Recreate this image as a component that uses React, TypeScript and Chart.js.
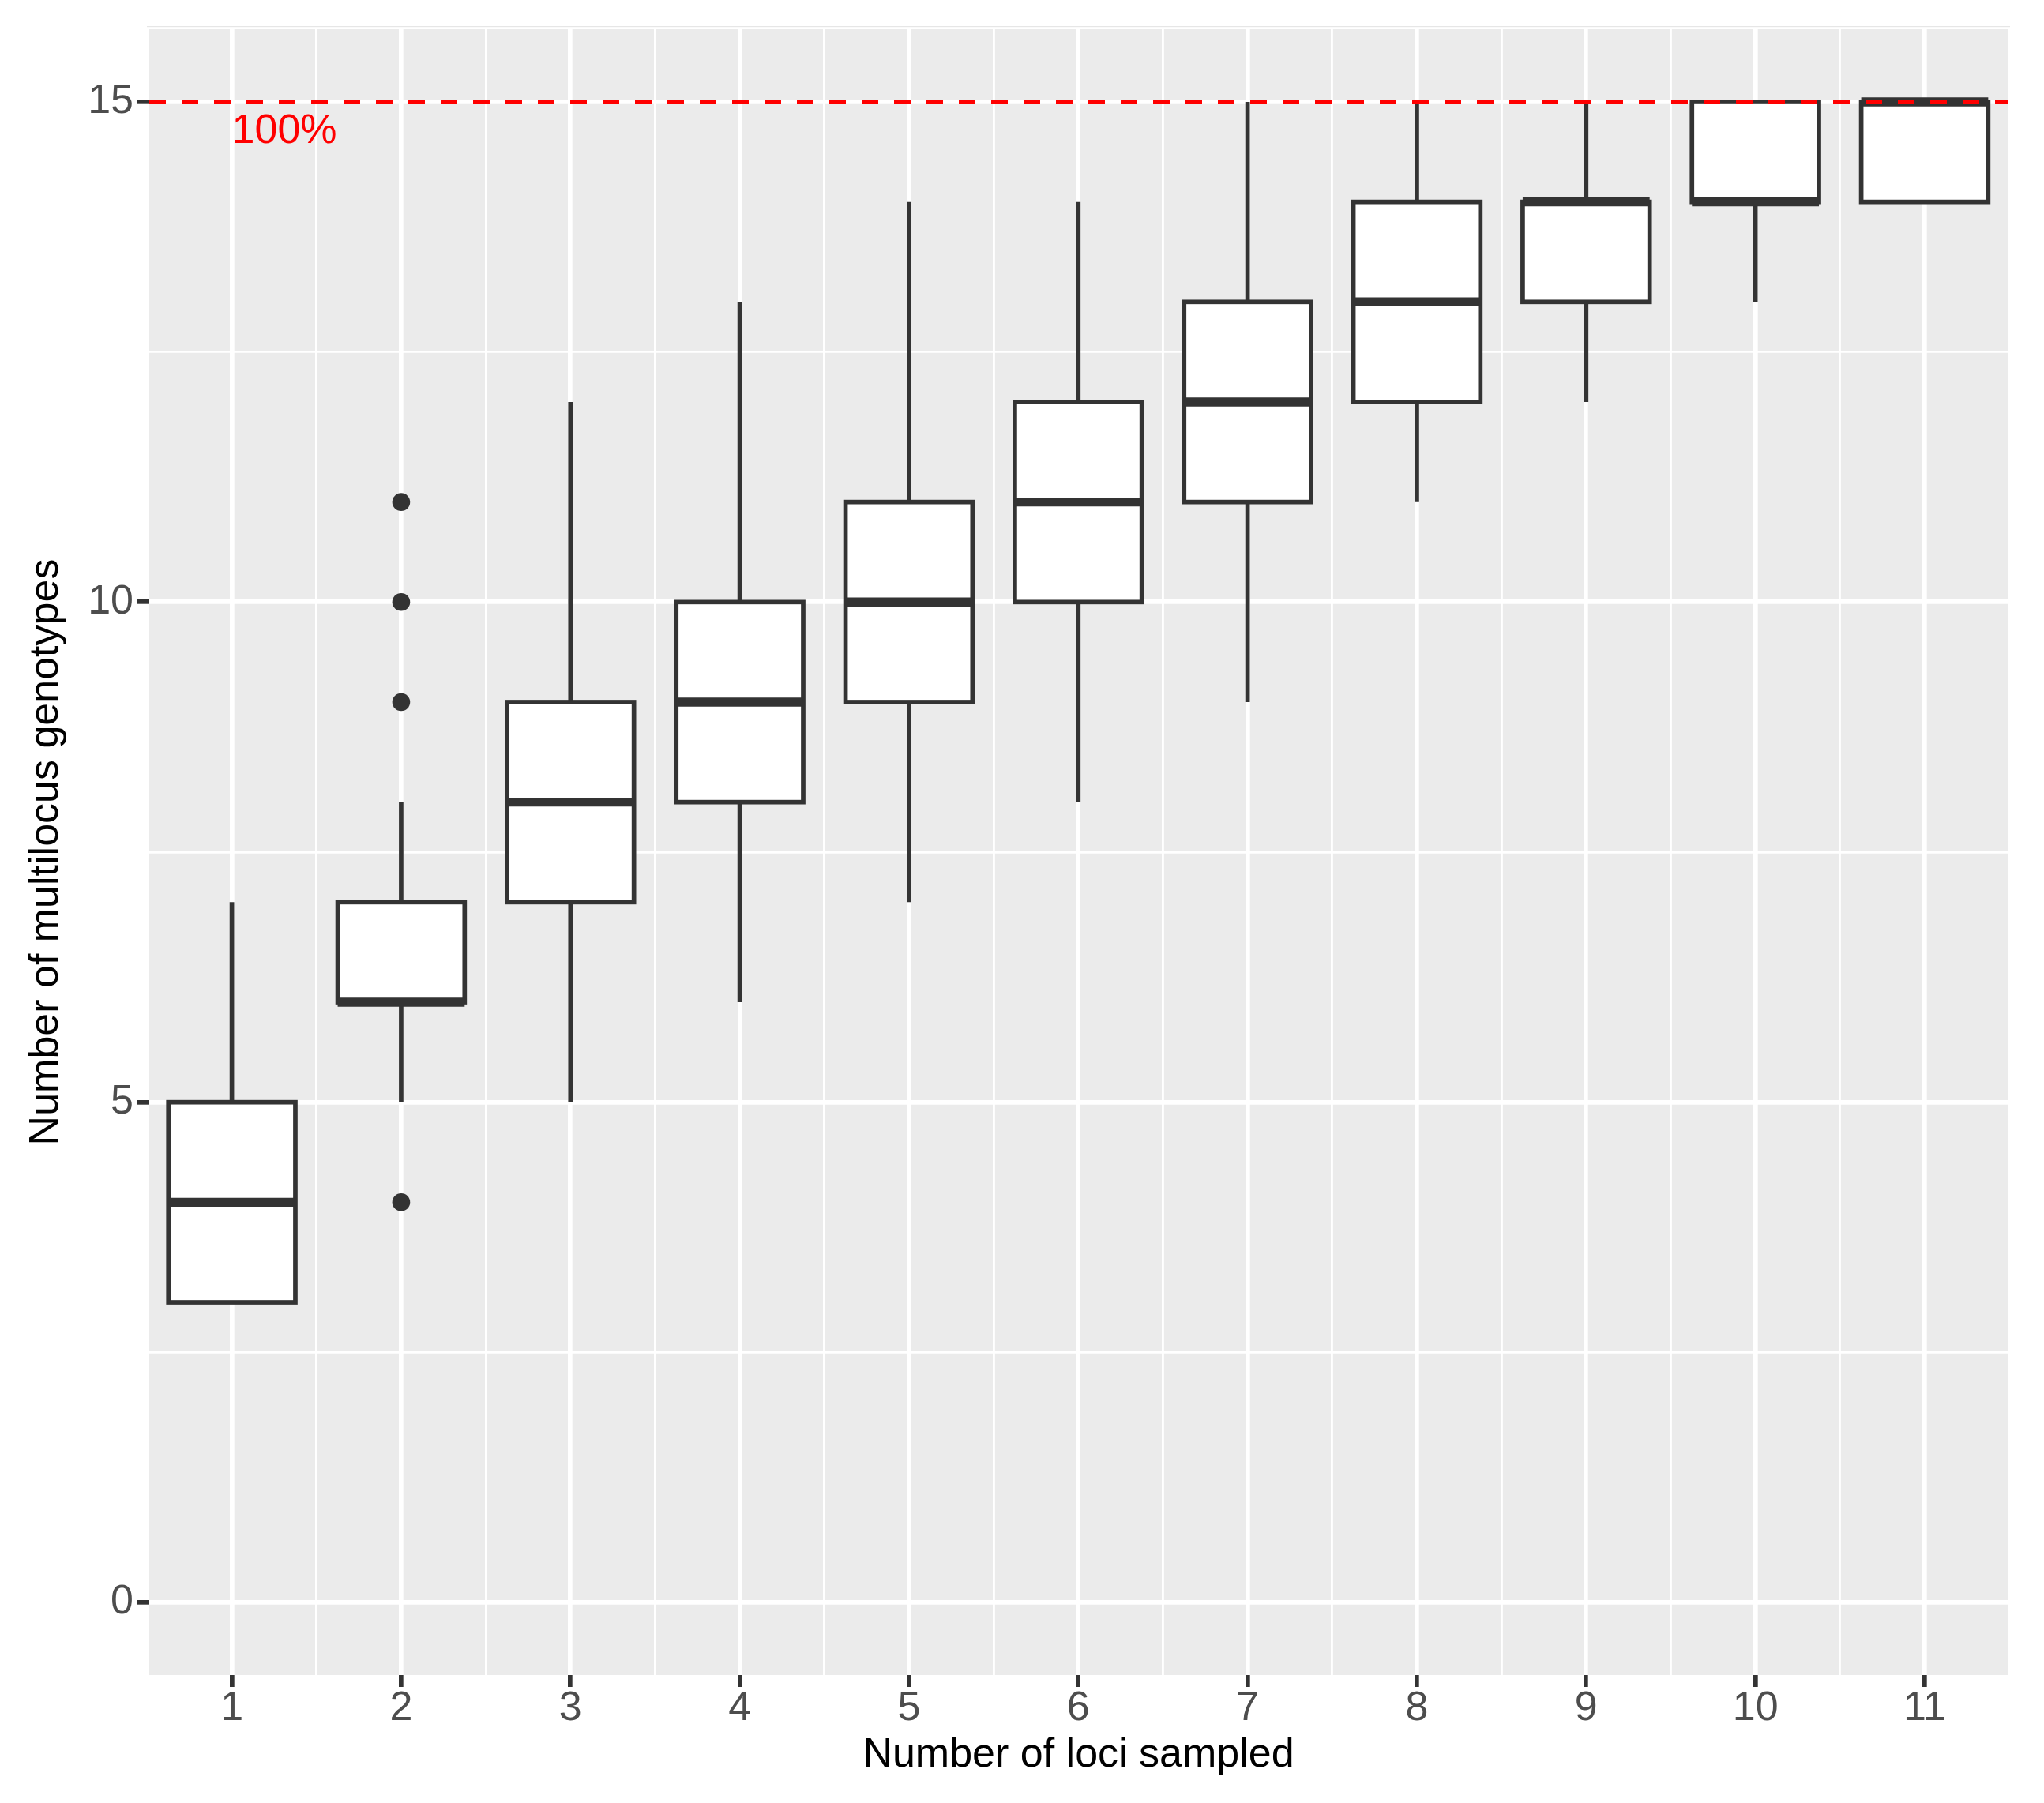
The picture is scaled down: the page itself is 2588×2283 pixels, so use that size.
import React, { useEffect, useRef } from "react";
import { Chart, registerables } from "chart.js";

Chart.register(...registerables);

// ---- Data ----
const lociSampled = [1, 2, 3, 4, 5, 6, 7, 8, 9, 10, 11];
const whiskerLow = [3, 5, 5, 6, 7, 8, 9, 11, 12, 13, 14];
const q1 = [3, 6, 7, 8, 9, 10, 11, 12, 13, 14, 14];
const median = [4, 6, 8, 9, 10, 11, 12, 13, 14, 14, 15];
const q3 = [5, 7, 9, 10, 11, 12, 13, 14, 14, 15, 15];
const whiskerHigh = [7, 8, 12, 13, 14, 14, 15, 15, 15, 15, 15];
const outlierLoci = [2, 2, 2, 2];
const outlierValues = [4, 9, 10, 11];

const yMajorTicks = [0, 5, 10, 15];
const yMinorTicks = [2.5, 7.5, 12.5];
const xMinorTicks = [1.5, 2.5, 3.5, 4.5, 5.5, 6.5, 7.5, 8.5, 9.5, 10.5];

const referenceValue = 15;
const referenceLabel = "100%";
const referenceLabelX = 1;
const referenceLabelY = 14.7;

const xTitle = "Number of loci sampled";
const yTitle = "Number of multilocus genotypes";

// ---- Styling ----
const W = 2588;
const H = 2283;
const BOX_WIDTH = 0.75;
const LINE = "#333333";
const PANEL = "#EBEBEB";
const MAJOR_W = 5.7;
const MINOR_W = 2.85;
const FONT = "'Liberation Sans', Arial, Helvetica, sans-serif";

const isMajorX = (v: number) => lociSampled.includes(v);
const isMajorY = (v: number) => yMajorTicks.includes(v);

const backgroundPlugin = {
  id: "panelBackground",
  beforeDraw(chart: any) {
    const { ctx, chartArea } = chart;
    ctx.save();
    ctx.fillStyle = "#FFFFFF";
    ctx.fillRect(0, 0, chart.width, chart.height);
    // faint top rule
    ctx.fillStyle = "#E6E6E6";
    ctx.fillRect(chartArea.left - 3, chartArea.top - 4, chartArea.right - chartArea.left + 6, 1.2);
    ctx.fillStyle = PANEL;
    ctx.fillRect(chartArea.left, chartArea.top, chartArea.right - chartArea.left, chartArea.bottom - chartArea.top);
    ctx.restore();
  },
};

const boxPlugin = {
  id: "boxes",
  beforeDatasetsDraw(chart: any) {
    const { ctx } = chart;
    const xs = chart.scales.x;
    const ys = chart.scales.y;
    ctx.save();
    ctx.strokeStyle = LINE;
    ctx.lineCap = "butt";
    ctx.lineJoin = "miter";
    lociSampled.forEach((cat, i) => {
      const cx = xs.getPixelForValue(cat);
      const x0 = xs.getPixelForValue(cat - BOX_WIDTH / 2);
      const x1 = xs.getPixelForValue(cat + BOX_WIDTH / 2);
      const yQ1 = ys.getPixelForValue(q1[i]);
      const yQ3 = ys.getPixelForValue(q3[i]);
      const yMed = ys.getPixelForValue(median[i]);
      const yLo = ys.getPixelForValue(whiskerLow[i]);
      const yHi = ys.getPixelForValue(whiskerHigh[i]);
      // whiskers
      ctx.lineWidth = MAJOR_W;
      ctx.beginPath();
      if (whiskerHigh[i] > q3[i]) {
        ctx.moveTo(cx, yQ3);
        ctx.lineTo(cx, yHi);
      }
      if (whiskerLow[i] < q1[i]) {
        ctx.moveTo(cx, yQ1);
        ctx.lineTo(cx, yLo);
      }
      ctx.stroke();
      // box
      ctx.fillStyle = "#FFFFFF";
      ctx.fillRect(x0, yQ3, x1 - x0, yQ1 - yQ3);
      ctx.lineWidth = MAJOR_W;
      ctx.strokeRect(x0, yQ3, x1 - x0, yQ1 - yQ3);
      // median
      ctx.lineWidth = MAJOR_W * 2;
      ctx.beginPath();
      ctx.moveTo(x0, yMed);
      ctx.lineTo(x1, yMed);
      ctx.stroke();
    });
    ctx.restore();
  },
  afterDatasetsDraw(chart: any) {
    const { ctx, chartArea } = chart;
    const xs = chart.scales.x;
    const ys = chart.scales.y;
    const yRef = ys.getPixelForValue(referenceValue);
    ctx.save();
    ctx.strokeStyle = "#FF0000";
    ctx.lineWidth = 6;
    ctx.lineCap = "butt";
    ctx.setLineDash([21, 20]);
    ctx.beginPath();
    ctx.moveTo(chartArea.left, yRef);
    ctx.lineTo(chartArea.right, yRef);
    ctx.stroke();
    ctx.setLineDash([]);
    ctx.fillStyle = "#FF0000";
    ctx.font = `52px ${FONT}`;
    ctx.textAlign = "left";
    ctx.textBaseline = "middle";
    ctx.fillText(referenceLabel, xs.getPixelForValue(referenceLabelX), ys.getPixelForValue(referenceLabelY));
    ctx.restore();
  },
};

export default function App() {
  const canvasRef = useRef<HTMLCanvasElement | null>(null);

  useEffect(() => {
    document.body.style.margin = "0";
    document.body.style.overflow = "hidden";
    const canvas = canvasRef.current;
    if (!canvas) return;

    const chart = new Chart(canvas, {
      type: "scatter",
      data: {
        datasets: [
          {
            label: "outliers",
            data: outlierLoci.map((xv, i) => ({ x: xv, y: outlierValues[i] })),
            pointRadius: 11.3,
            pointBackgroundColor: LINE,
            pointBorderWidth: 0,
            pointBorderColor: LINE,
            pointHoverRadius: 11.3,
          },
        ],
      },
      plugins: [backgroundPlugin, boxPlugin],
      options: {
        animation: false,
        responsive: false,
        devicePixelRatio: 1,
        maintainAspectRatio: false,
        events: [],
        layout: { padding: { top: 37, right: 46, left: 0, bottom: 0 } },
        plugins: {
          legend: { display: false },
          tooltip: { enabled: false },
        },
        scales: {
          x: {
            type: "linear",
            position: "bottom",
            min: 0.512,
            max: 11.49,
            afterBuildTicks: (scale: any) => {
              const vals = [...lociSampled, ...xMinorTicks].sort((a, b) => a - b);
              scale.ticks = vals.map((v) => ({ value: v }));
            },
            afterFit: (scale: any) => {
              scale.height = 162;
            },
            border: { display: false },
            grid: {
              color: "#FFFFFF",
              lineWidth: (c: any) => (isMajorX(c.tick.value) ? MAJOR_W : MINOR_W),
              tickLength: 15,
              tickWidth: MAJOR_W,
              tickColor: (c: any) => (isMajorX(c.tick.value) ? LINE : "rgba(0,0,0,0)"),
              drawTicks: true,
            },
            ticks: {
              autoSkip: false,
              maxRotation: 0,
              minRotation: 0,
              padding: 1.5,
              color: "#4D4D4D",
              font: { family: FONT, size: 52, lineHeight: 1 },
              callback: (v: any) => (isMajorX(Number(v)) ? String(v) : ""),
            },
            title: {
              display: true,
              text: xTitle,
              color: "#000000",
              font: { family: FONT, size: 52, lineHeight: 1.2 },
              padding: { top: 0, bottom: 28.8 },
            },
          },
          y: {
            type: "linear",
            position: "left",
            min: -0.726,
            max: 15.726,
            afterBuildTicks: (scale: any) => {
              const vals = [...yMajorTicks, ...yMinorTicks].sort((a, b) => a - b);
              scale.ticks = vals.map((v) => ({ value: v }));
            },
            afterFit: (scale: any) => {
              scale.width = 189;
            },
            border: { display: false },
            grid: {
              color: "#FFFFFF",
              lineWidth: (c: any) => (isMajorY(c.tick.value) ? MAJOR_W : MINOR_W),
              tickLength: 15,
              tickWidth: MAJOR_W,
              tickColor: (c: any) => (isMajorY(c.tick.value) ? LINE : "rgba(0,0,0,0)"),
              drawTicks: true,
            },
            ticks: {
              autoSkip: false,
              padding: 5,
              color: "#4D4D4D",
              font: { family: FONT, size: 52, lineHeight: 1 },
              callback: (v: any) => (isMajorY(Number(v)) ? String(v) : ""),
            },
            title: {
              display: true,
              text: yTitle,
              color: "#000000",
              font: { family: FONT, size: 52, lineHeight: 1.2 },
              padding: { top: 27.3, bottom: 0 },
            },
          },
        },
      },
    } as any);

    return () => {
      chart.destroy();
    };
  }, []);

  return (
    <div style={{ width: W, height: H, position: "relative" }}>
      <canvas ref={canvasRef} width={W} height={H} style={{ display: "block", width: W, height: H }} />
    </div>
  );
}
